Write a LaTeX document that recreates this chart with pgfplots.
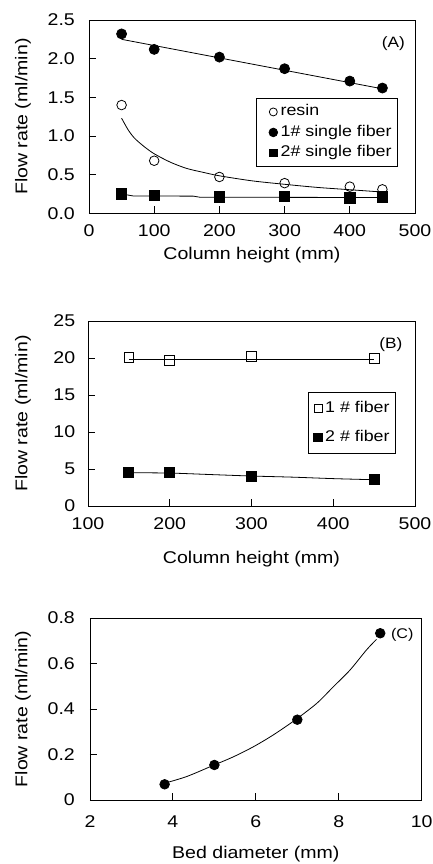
\documentclass[border=0pt]{standalone}
\usepackage{fontspec}
\setmainfont{Liberation Sans}[FakeStretch=1.15]
\usepackage{pgfplots}
\pgfplotsset{compat=1.18}

\pgfplotsset{
  myax/.style={
    scale only axis,
    anchor=north west,
    clip=false,
    axis line style={line width=0.9pt},
    xtick pos=bottom, ytick pos=left,
    tick align=inside,
    major tick length=7pt,
    every tick/.style={black, line width=0.9pt},
    /pgf/number format/assume math mode=true,
    tick label style={font=\fontsize{17}{20}\selectfont},
    legend cell align=left,
  },
  xlab/.style={every axis x label/.style={at={(axis description cs:0.5,0)}, anchor=base, yshift=-#1, font=\fontsize{17}{20}\selectfont}},
  ylab/.style={every axis y label/.style={at={(axis description cs:#1,0.5)}, rotate=90, anchor=center, font=\fontsize{17}{20}\selectfont}},
  legA/.style={legend image code/.code={\path[draw=none] (-12pt,-1pt) rectangle (4pt,1pt); \draw[##1,mark size=#1] plot coordinates {(0pt,0pt)};}},
  legB/.style={legend image code/.code={\draw[##1,mark size=#1] plot coordinates {(0pt,0pt)};}},
  crv/.style={black, line width=0.8pt, no marks, forget plot},
}

\begin{document}
\begin{tikzpicture}
\useasboundingbox (0pt,0pt) rectangle (433pt,-864pt);

% ---------------- Panel A ----------------
\begin{axis}[myax,
  at={(89pt,-20pt)}, width=326pt, height=193.3pt,
  xmin=0, xmax=500, ymin=0, ymax=2.5,
  xtick={0,100,...,500}, ytick={0,0.5,...,2.5},
  yticklabel style={xshift=-10.6pt, /pgf/number format/.cd, fixed, fixed zerofill, precision=1},
  xticklabel style={yshift=-7.7pt},
  xlab=46pt, ylab=-0.2025,
  xlabel={Column height (mm)},
  ylabel={Flow rate (ml/min)},
  legend style={at={(0.948,0.5965)}, anchor=north east, draw=black, line width=0.9pt,
    font=\fontsize{15.5}{18}\selectfont, inner xsep=5pt, inner ysep=5.5pt, row sep=4.5pt,
    nodes={inner sep=1pt, text height=11pt, text depth=3pt},
    /tikz/every odd column/.append style={column sep=2pt}},
]
\addplot[crv] coordinates {(50,2.25) (450,1.61)};
\addplot[crv, smooth] coordinates {(50,1.23) (60,1.08) (70,0.97) (85,0.86) (100,0.77) (125,0.66) (150,0.58) (175,0.53) (200,0.485) (250,0.42) (300,0.375) (350,0.335) (400,0.305) (450,0.275)};
\addplot[crv] coordinates {(50,0.25) (68,0.224) (160,0.222) (170,0.208) (400,0.205) (450,0.205)};
\addplot[black, only marks, mark=o, mark size=4.8pt, line width=0.8pt, legA=4pt] coordinates {(50,1.40) (100,0.68) (200,0.47) (300,0.39) (400,0.345) (450,0.31)};
\addlegendentry{resin}
\addplot[black, only marks, mark=*, mark size=5pt, line width=0.8pt, legA=4.3pt] coordinates {(50,2.32) (100,2.12) (200,2.02) (300,1.87) (400,1.71) (450,1.62)};
\addlegendentry{1\# single fiber}
\addplot[black, only marks, mark=square*, mark size=5.2pt, line width=0.8pt, legA=3.9pt] coordinates {(50,0.25) (100,0.23) (200,0.21) (300,0.22) (400,0.20) (450,0.21)};
\addlegendentry{2\# single fiber}
\node[font=\fontsize{15}{18}\selectfont] at (axis cs:467,2.20) {(A)};
\end{axis}

% ---------------- Panel B ----------------
\begin{axis}[myax,
  at={(88pt,-321pt)}, width=327pt, height=185pt,
  xmin=100, xmax=500, ymin=0, ymax=25,
  xtick={100,200,...,500}, ytick={0,5,...,25},
  xticklabel style={yshift=-8.3pt},
  yticklabel style={xshift=-9.3pt},
  xlab=57pt, ylab=-0.199,
  xlabel={Column height (mm)},
  ylabel={Flow rate (ml/min)},
  legend style={at={(0.942,0.616)}, anchor=north east, draw=black, line width=0.9pt,
    font=\fontsize{15.5}{18}\selectfont, inner xsep=5pt, inner ysep=8pt, row sep=12.7pt,
    nodes={inner sep=1pt, text height=11pt, text depth=3pt},
    /tikz/every odd column/.append style={column sep=2pt}},
]
\addplot[crv] coordinates {(150,19.8) (450,19.8)};
\addplot[crv, smooth] coordinates {(150,4.5) (200,4.45) (250,4.25) (300,4.05) (350,3.9) (400,3.7) (450,3.55)};
\addplot[black, only marks, mark=square, mark size=4.9pt, line width=0.8pt, legB=4pt] coordinates {(150,20.1) (200,19.7) (300,20.2) (450,20.0)};
\addlegendentry{1 \# fiber}
\addplot[black, only marks, mark=square*, mark size=5pt, line width=0.8pt, legB=4.2pt] coordinates {(150,4.5) (200,4.5) (300,4.05) (450,3.6)};
\addlegendentry{2 \# fiber}
\node[font=\fontsize{15}{18}\selectfont] at (axis cs:470.6,21.8) {(B)};
\end{axis}

% ---------------- Panel C ----------------
\begin{axis}[myax,
  at={(90pt,-618pt)}, width=331.7pt, height=182pt,
  xmin=2, xmax=10, ymin=0, ymax=0.8,
  xtick={2,4,...,10}, ytick={0,0.2,...,0.8},
  yticklabel style={xshift=-11.6pt, /pgf/number format/.cd, fixed, precision=1},
  xticklabel style={yshift=-12.3pt},
  xlab=58pt, ylab=-0.202,
  xlabel={Bed diameter (mm)},
  ylabel={Flow rate (ml/min)},
]
\addplot[crv, smooth] coordinates {(3.78,0.073) (4.33,0.103) (4.97,0.152) (5.46,0.19) (5.94,0.234) (6.42,0.286) (6.95,0.352) (7.47,0.425) (7.87,0.498) (8.27,0.571) (8.67,0.66) (8.91,0.706)};
\addplot[black, only marks, mark=*, mark size=4.8pt, line width=0.8pt] coordinates {(3.8,0.069) (5,0.154) (7,0.353) (9,0.733)};
\node[font=\fontsize{14}{17}\selectfont] at (axis cs:9.53,0.727) {(C)};
\end{axis}
\end{tikzpicture}
\end{document}
